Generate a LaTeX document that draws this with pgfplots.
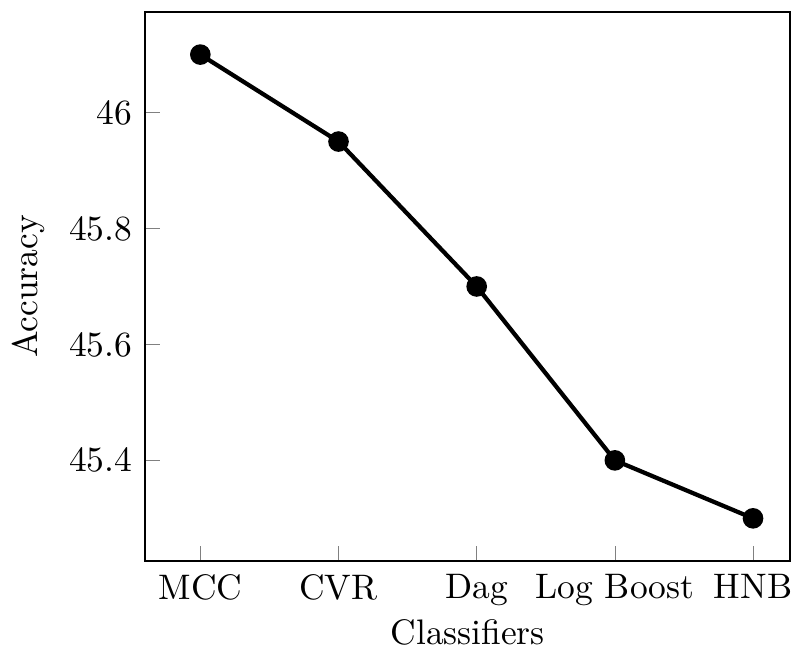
\documentclass[border=0pt]{standalone}
\usepackage{pgfplots}
\pgfplotsset{compat=1.18}
\begin{document}
\begin{tikzpicture}
\begin{axis}[
  scale only axis,
  width=182pt, height=155pt,
  xmin=-0.40, xmax=4.27,
  ymin=45.226, ymax=46.174,
  xtick={0,1,2,3,4},
  xticklabels={MCC,CVR,Dag,Log Boost,HNB},
  ytick={45.4,45.6,45.8,46},
  yticklabels={45.4,45.6,45.8,46},
  tick pos=left,
  xlabel={Classifiers},
  ylabel={Accuracy},
  xlabel style={yshift=3pt},
  line width=0.6pt,
]
\addplot[black, very thick, mark=*, mark size=2.3pt] coordinates {
  (0,46.1) (1,45.95) (2,45.7) (3,45.4) (4,45.3)
};
\end{axis}
\path (current bounding box.north) ++(0,3pt);
\end{tikzpicture}
\end{document}
